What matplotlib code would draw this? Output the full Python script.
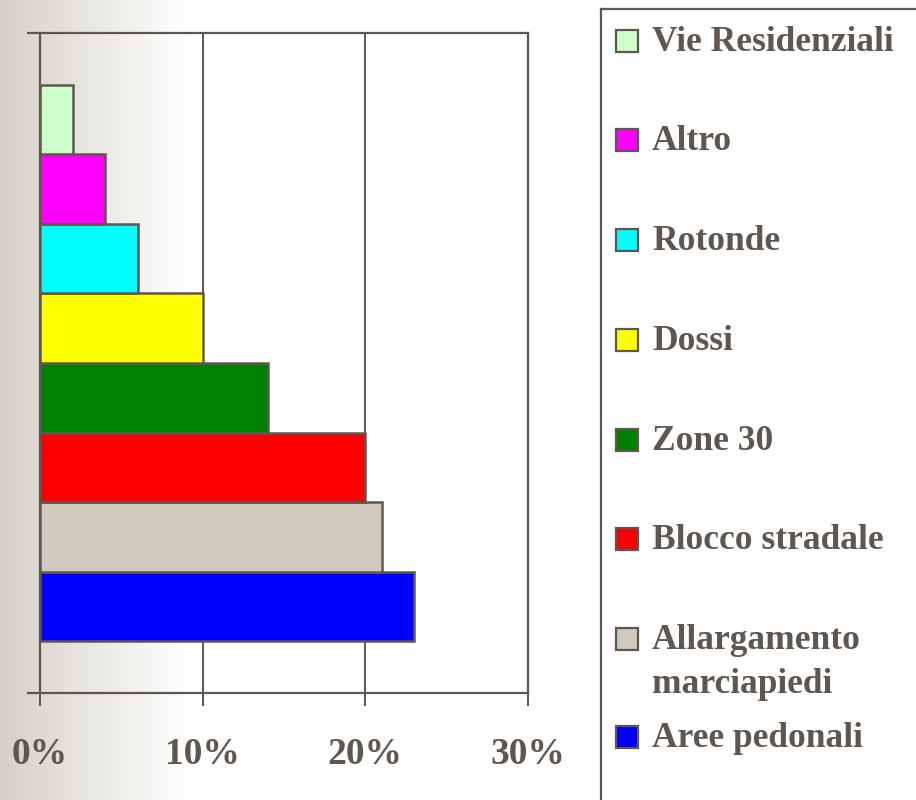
import numpy as np
import matplotlib
matplotlib.use('Agg')
import matplotlib.pyplot as plt
from matplotlib.patches import Rectangle
from matplotlib.colors import LinearSegmentedColormap

# data (bottom to top)
categories = ['Aree pedonali', 'Allargamento\nmarciapiedi', 'Blocco stradale', 'Zone 30',
              'Dossi', 'Rotonde', 'Altro', 'Vie Residenziali']
values = [23, 21, 20, 14, 10, 6, 4, 2]
colors = ['#0000ff', '#d0c9bd', '#ff0000', '#008000', '#ffff00', '#00ffff', '#ff00ff', '#ccffcc']
xticks = [0, 10, 20, 30]
xticklabels = ['0%', '10%', '20%', '30%']

ink = '#5f574f'
plt.rcParams['font.family'] = ['Liberation Serif', 'DejaVu Serif']
plt.rcParams['font.weight'] = 'bold'

W, H = 916, 800
fig = plt.figure(figsize=(W / 100, H / 100), dpi=100)

# gradient background on the left
bg = fig.add_axes([0, 0, 1, 1], zorder=-10)
cmap = LinearSegmentedColormap.from_list('bg', ['#d5d1c7', '#ffffff'])
grad = np.clip(np.linspace(0, 1, W) / (188 / W), 0, 1)
bg.imshow(grad[None, :], aspect='auto', cmap=cmap, extent=[0, 1, 0, 1], vmin=0, vmax=1)
bg.set_axis_off()

ax = fig.add_axes([40 / W, 1 - 693 / H, (528 - 40) / W, (693 - 33) / H])
ax.patch.set_alpha(0)
y = np.arange(len(values))
ax.barh(y, values, height=1.0, color=colors, edgecolor=ink, linewidth=1.8, zorder=3)
ax.set_xlim(0, 30)
ax.set_ylim(-1.245, 8.245)

ax.set_xticks(xticks)
ax.set_xticklabels(xticklabels, fontsize=27, color=ink, fontweight='bold')
ax.tick_params(axis='x', direction='out', length=9.5, width=1.4, color=ink, pad=22)
ax.set_yticks([-1.245, 8.245])
ax.set_yticklabels([])
ax.tick_params(axis='y', direction='out', length=9.5, width=1.6, color=ink)
ax.grid(axis='x', color=ink, linewidth=1.4, zorder=1)
for s in ax.spines.values():
    s.set_color(ink)
    s.set_linewidth(1.6)

# legend box (runs off the figure on the right and bottom)
fig.add_artist(plt.Line2D([601 / W, 601 / W], [1 - 9 / H, 0], color=ink, lw=1.6,
                          transform=fig.transFigure))
fig.add_artist(plt.Line2D([601 / W, 1], [1 - 9 / H, 1 - 9 / H], color=ink, lw=1.6,
                          transform=fig.transFigure))

ycent = [737, 639, 539, 440, 340, 240, 140, 41]
for lab, col, yc in zip(categories, colors, ycent):
    fig.add_artist(Rectangle((616 / W, 1 - (yc + 11) / H), 22 / W, 22 / H,
                             facecolor=col, edgecolor=ink, lw=1.6,
                             transform=fig.transFigure))
    fig.text(652 / W, 1 - (yc - 15) / H, lab, fontsize=25.5, color=ink, fontweight='bold',
             va='top', ha='left', linespacing=1.45)

fig.savefig('out.png', dpi=100)
